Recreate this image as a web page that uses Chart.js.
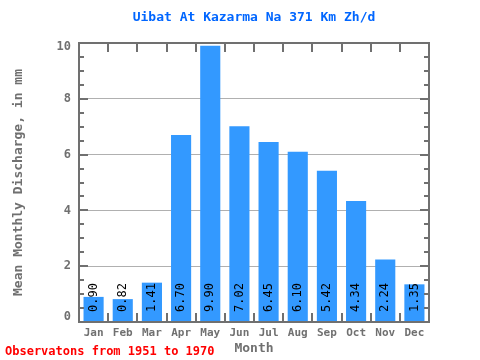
<!DOCTYPE html>
<html><head><meta charset="utf-8">
<script src="https://cdn.jsdelivr.net/npm/chart.js@4/dist/chart.umd.min.js"></script>
<style>html,body{margin:0;padding:0;background:#fff}#wrap{width:480px;height:360px}</style>
</head><body><div id="wrap"><canvas id="c" width="480" height="360"></canvas></div>
<script>
const months = ['Jan','Feb','Mar','Apr','May','Jun','Jul','Aug','Sep','Oct','Nov','Dec'];
const discharge = [0.90, 0.82, 1.41, 6.70, 9.90, 7.02, 6.45, 6.10, 5.42, 4.34, 2.24, 1.35];
const yTickLabels = [0, 2, 4, 6, 8, 10];
const chartTitle = 'Uibat At Kazarma Na 371 Km Zh/d';
const yTitle = 'Mean Monthly Discharge, in mm';
const xTitle = 'Month';
const footer = 'Observatons from 1951 to 1970';

const MONO = '"DejaVu Sans Mono", "Liberation Mono", monospace';
const AXIS = '#707070';

const deco = {
  id: 'deco',
  afterDatasetsDraw(chart) {
    const ctx = chart.ctx, a = chart.chartArea;
    const xs = chart.scales.x, ys = chart.scales.y;
    ctx.save();
    // value labels
    ctx.fillStyle = '#000';
    ctx.font = '12px ' + MONO;
    ctx.textAlign = 'left';
    ctx.textBaseline = 'middle';
    discharge.forEach((v, i) => {
      const x = xs.getPixelForValue(i);
      ctx.save();
      ctx.translate(x, ys.getPixelForValue(0) - 10);
      ctx.rotate(-Math.PI / 2);
      ctx.fillText(v.toFixed(2), 0, 0);
      ctx.restore();
    });
    // ticks
    ctx.strokeStyle = AXIS;
    ctx.lineWidth = 2;
    ctx.beginPath();
    for (let v = 0; v <= 10.001; v += 0.5) {
      const y = Math.round(ys.getPixelForValue(v));
      const major = Math.abs(v / 2 - Math.round(v / 2)) < 1e-6;
      const len = major ? 9 : 5;
      ctx.moveTo(a.left, y); ctx.lineTo(a.left + len, y);
      ctx.moveTo(a.right, y); ctx.lineTo(a.right - len, y);
    }
    const step = (xs.getPixelForValue(1) - xs.getPixelForValue(0));
    for (let i = 0; i <= months.length; i++) {
      const x = Math.round(xs.getPixelForValue(0) - step / 2 + i * step);
      ctx.moveTo(x, a.top); ctx.lineTo(x, a.top + 9);
      ctx.moveTo(x, a.bottom); ctx.lineTo(x, a.bottom - 9);
    }
    ctx.stroke();
    // frame
    ctx.strokeRect(a.left, a.top, a.right - a.left, a.bottom - a.top);
    // y tick labels
    ctx.fillStyle = AXIS;
    ctx.font = 'bold 12px ' + MONO;
    ctx.textAlign = 'right';
    ctx.textBaseline = 'middle';
    yTickLabels.forEach(v => {
      let y = ys.getPixelForValue(v);
      y = Math.max(a.top + 4, Math.min(a.bottom - 5, y));
      ctx.fillText(String(v), a.left - 8, y);
    });
    // title
    ctx.fillStyle = '#0066ff';
    ctx.font = 'bold 13px ' + MONO;
    ctx.textAlign = 'center';
    ctx.fillText(chartTitle, (a.left + a.right) / 2, 18);
    // footer
    ctx.fillStyle = '#ff0000';
    ctx.font = 'bold 12px ' + MONO;
    ctx.textAlign = 'left';
    ctx.fillText(footer, 5, 352);
    ctx.restore();
  }
};

new Chart(document.getElementById('c'), {
  type: 'bar',
  data: {
    labels: months,
    datasets: [{ data: discharge, backgroundColor: '#3399ff', borderWidth: 0,
      categoryPercentage: 1, barPercentage: 0.69 }]
  },
  options: {
    responsive: false, animation: false,
    layout: { padding: { top: 43, right: 51, left: 0, bottom: 0 } },
    plugins: { legend: { display: false }, tooltip: { enabled: false } },
    scales: {
      x: {
        grid: { display: false, drawTicks: false }, border: { display: false },
        ticks: { color: AXIS, font: { family: MONO, size: 11, weight: 'bold' }, padding: 5, maxRotation: 0 },
        title: { display: true, text: xTitle, color: AXIS, font: { family: MONO, size: 13, weight: 'bold' }, padding: { top: 0, bottom: 4 } },
        afterFit(s) { s.height = 38; }
      },
      y: {
        min: 0, max: 10,
        grid: { color: '#b0b0b0', lineWidth: 1, drawTicks: false }, border: { display: false },
        ticks: { display: false, stepSize: 2 },
        title: { display: true, text: yTitle, color: AXIS, font: { family: MONO, size: 13, weight: 'bold' }, padding: { top: 11, bottom: 0 } },
        afterFit(s) { s.width = 79; }
      }
    }
  },
  plugins: [deco]
});
</script></body></html>
